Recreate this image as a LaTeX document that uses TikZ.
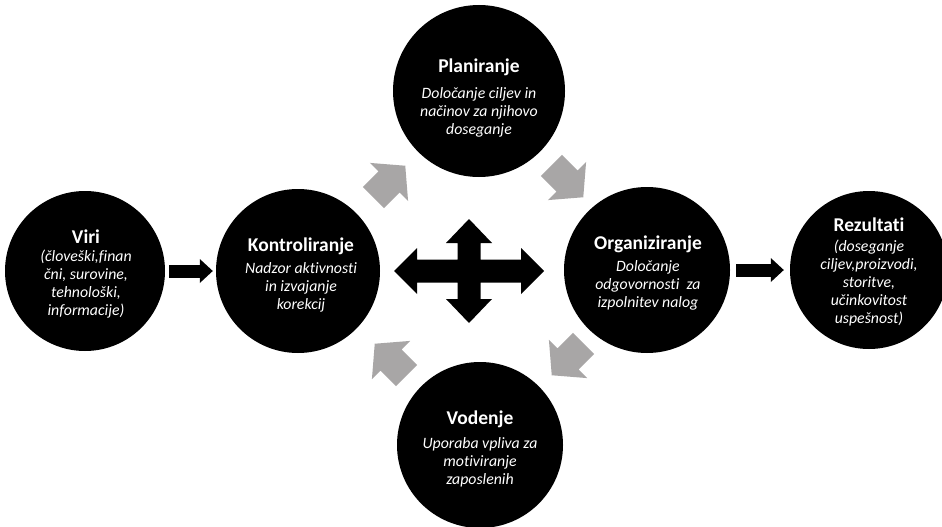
\documentclass[tikz,border=0pt]{standalone}
\usepackage{fontspec}
\setmainfont{Carlito}[Ligatures={NoCommon}]
\usetikzlibrary{arrows.meta}

\definecolor{cyclegrey}{RGB}{168,166,166}

\tikzset{
  stage/.style={circle, fill=black, inner sep=0pt, minimum size=#1},
  stagetitle/.style={text=white, anchor=base, inner sep=0pt,
    font=\bfseries\fontsize{19.5}{23}\selectfont},
  stagebody/.style={text=white, anchor=north, inner sep=0pt, align=center,
    font=\itshape\fontsize{15.8}{18}\selectfont},
  flow/.style={line width=13pt,
    -{Triangle[length=13pt,width=24pt,line width=0pt]}},
  pics/turn/.style={code={
    \fill[cyclegrey] (-22,-15) -- (0,-15) -- (0,-27) -- (23,0)
      -- (0,27) -- (0,15) -- (-22,15) -- cycle;}}
}

\begin{document}
\begin{tikzpicture}[x=1pt,y=-1pt]
  \useasboundingbox (0,0) rectangle (942,527);
  \clip (0,0) rectangle (942,527);
  \fill[white] (0,0) rectangle (942,527);

  % stages
  \node[stage=160pt] (viri)  at (85,271)  {};
  \node[stage=164pt] (kontr) at (298,271) {};
  \node[stage=172pt] (plan)  at (479,91)  {};
  \node[stage=166pt] (org)   at (647,270) {};
  \node[stage=158pt] (rez)   at (869,270) {};
  \node[stage=166pt] (vod)   at (480,445) {};

  % titles and descriptions
  \node[stagetitle] (viri-t) at (86,243) {Viri};
  \node[stagebody]  (viri-b) at (86,250)
    {(človeški,finan\\čni, surovine,\\tehnološki,\\informacije)};

  \node[stagetitle] (kontr-t) at (301,251) {Kontroliranje};
  \node[stagebody]  (kontr-b) at (301,262)
    {Nadzor aktivnosti\\in izvajanje\\korekcij};

  \node[stagetitle] (plan-t) at (479,73) {Planiranje};
  \node[stagebody]  (plan-b) at (479,87)
    {Določanje ciljev in\\načinov za njihovo\\doseganje};

  \node[stagetitle] (org-t) at (648,249) {Organiziranje};
  \node[stagebody]  (org-b) at (648,260)
    {Določanje\\odgovornosti\ \ za\\izpolnitev nalog};

  \node[stagetitle] (rez-t) at (869,231) {Rezultati};
  \node[stagebody]  (rez-b) at (869,240)
    {(doseganje\\ciljev,proizvodi,\\storitve,\\učinkovitost\\uspešnost)};

  \node[stagetitle] (vod-t) at (480,424) {Vodenje};
  \node[stagebody]  (vod-b) at (480,437)
    {Uporaba vpliva za\\motiviranje\\zaposlenih};

  % input and output arrows
  \draw[flow, shorten <=4pt, shorten >=3pt] (viri) -- (kontr);
  \draw[flow, shorten <=6pt, shorten >=6pt] (org) -- (rez);

  % management cycle arrows
  \pic[rotate=45]   at (389,182) {turn};
  \pic[rotate=-45]  at (567,181) {turn};
  \pic[rotate=-135] at (568,359) {turn};
  \pic[rotate=135]  at (391,360) {turn};

  % four-way arrow in the middle
  \coordinate (hub) at (469,271);
  \fill[black, shift={(hub)}]
    (75,0) -- (52,-23) -- (52,-11.5) -- (11.5,-11.5) -- (11.5,-28)
    -- (23,-28) -- (0,-52) -- (-23,-28) -- (-11.5,-28) -- (-11.5,-11.5)
    -- (-52,-11.5) -- (-52,-23) -- (-75,0) -- (-52,23) -- (-52,11.5)
    -- (-11.5,11.5) -- (-11.5,28) -- (-23,28) -- (0,52) -- (23,28)
    -- (11.5,28) -- (11.5,11.5) -- (52,11.5) -- (52,23) -- cycle;
\end{tikzpicture}
\end{document}
